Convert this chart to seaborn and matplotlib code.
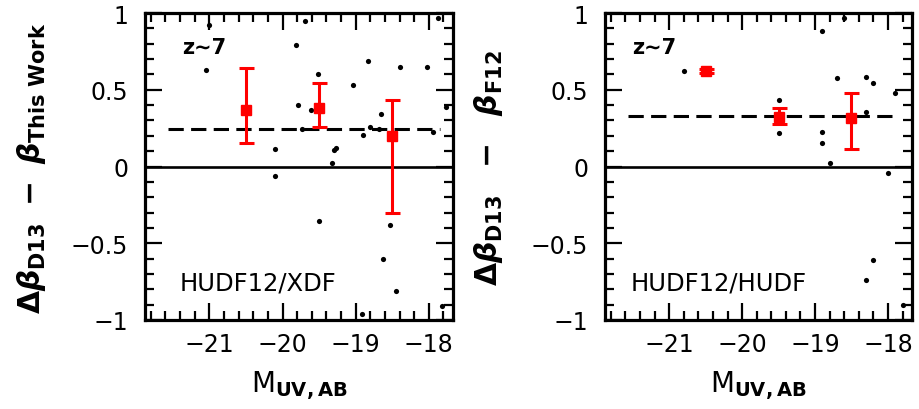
import numpy as np
import matplotlib
matplotlib.use("Agg")
import matplotlib.pyplot as plt
import seaborn as sns

# ---------------- data ----------------
left_x = [-21.01, -19.69, -17.87, -19.82, -21.05, -18.83, -19.52, -18.40, -18.02, -19.04,
          -19.79, -19.61, -17.77, -18.65, -19.74, -18.81, -18.68, -17.95, -18.90, -20.10,
          -19.27, -19.29, -19.33, -20.10, -19.50, -18.53, -18.62, -18.45, -18.91, -17.82]
left_y = [0.925, 0.95, 0.97, 0.79, 0.63, 0.69, 0.60, 0.645, 0.645, 0.53,
          0.40, 0.37, 0.39, 0.34, 0.245, 0.26, 0.245, 0.225, 0.205, 0.115,
          0.12, 0.105, 0.02, -0.063, -0.354, -0.384, -0.60, -0.81, -0.96, -0.91]
left_bin_x = [-20.5, -19.5, -18.5]
left_bin_y = [0.37, 0.38, 0.20]
left_bin_lo = [0.156, 0.258, -0.30]
left_bin_hi = [0.643, 0.545, 0.43]
left_mean = 0.245

right_x = [-18.90, -18.60, -20.79, -18.70, -18.30, -18.20, -17.90, -19.50, -18.30,
           -19.50, -18.90, -18.90, -18.80, -18.00, -18.20, -18.30, -17.80]
right_y = [0.884, 0.97, 0.625, 0.576, 0.584, 0.543, 0.48, 0.434, 0.354,
           0.215, 0.226, 0.154, 0.02, -0.043, -0.61, -0.74, -0.90]
right_bin_x = [-20.5, -19.5, -18.5]
right_bin_y = [0.623, 0.324, 0.315]
right_bin_lo = [0.61, 0.276, 0.117]
right_bin_hi = [0.636, 0.378, 0.482]
right_mean = 0.33

mean_line_x = [-21.57, -17.85]

x_ticks = [-21, -20, -19, -18]
x_ticklabels = ["\u221221", "\u221220", "\u221219", "\u221218"]
y_ticks = [-1, -0.5, 0, 0.5, 1]
y_ticklabels = ["\u22121", "\u22120.5", "0", "0.5", "1"]

field_labels = ["HUDF12/XDF", "HUDF12/HUDF"]
ylabels = [r"$\mathbf{\Delta}\beta_{\mathrm{D13}}\ -\ \beta_{\mathrm{This\ Work}}$",
           r"$\mathbf{\Delta}\beta_{\mathrm{D13}}\ \ -\ \ \beta_{\mathrm{F12}}$"]
xlabel = r"$\mathregular{M}_{\mathrm{UV,AB}}$"

# ---------------- style ----------------
sns.set_style("white")
plt.rcParams["font.family"] = ["DejaVu Sans"]
plt.rcParams.update({"text.color": "black", "axes.labelcolor": "black",
                     "xtick.color": "black", "ytick.color": "black"})
plt.rcParams["mathtext.fontset"] = "custom"
plt.rcParams["mathtext.rm"] = "DejaVu Sans:bold"
plt.rcParams["mathtext.bf"] = "DejaVu Sans:bold"
plt.rcParams["mathtext.it"] = "DejaVu Sans:italic:bold"

fig = plt.figure(figsize=(9.2, 4.1), dpi=100)
ax1 = fig.add_axes([145 / 920, 89 / 410, 308 / 920, 307 / 410])
ax2 = fig.add_axes([605 / 920, 89 / 410, 307 / 920, 307 / 410])

panels = [
    (ax1, left_x, left_y, left_bin_x, left_bin_y, left_bin_lo, left_bin_hi, left_mean, 0.114, 0),
    (ax2, right_x, right_y, right_bin_x, right_bin_y, right_bin_lo, right_bin_hi, right_mean, 0.082, 1),
]

for ax, px, py, bx, by, blo, bhi, mean, fx, i in panels:
    ax.set_xlim(-21.88, -17.67)
    ax.set_ylim(-1, 1)
    ax.axhline(0, color="black", lw=1.9, zorder=1)
    ax.plot(mean_line_x, [mean, mean], color="black", lw=2.2, dashes=(5, 2.4), zorder=2)
    sns.scatterplot(x=px, y=py, ax=ax, color="black", s=14, marker="o",
                    linewidth=0, zorder=3, legend=False)
    by = np.array(by)
    yerr = np.vstack([by - np.array(blo), np.array(bhi) - by])
    ax.errorbar(bx, by, yerr=yerr, fmt="s", color="red", ms=7.3, lw=2.2,
                capsize=5.4, capthick=2.2, zorder=4)

    for s in ax.spines.values():
        s.set_linewidth(2.3)
        s.set_color("black")
    ax.set_xticks(x_ticks)
    ax.set_xticklabels(x_ticklabels)
    ax.set_yticks(y_ticks)
    ax.set_yticklabels(y_ticklabels)
    ax.set_xticks(np.arange(-21.8, -17.6, 0.2), minor=True)
    ax.set_yticks(np.arange(-1, 1.001, 0.1), minor=True)
    ax.tick_params(which="both", direction="in", top=True, right=True,
                   bottom=True, left=True, width=1.6, color="black")
    ax.tick_params(which="major", length=12.5)
    ax.tick_params(which="minor", length=6.5)
    ax.tick_params(axis="x", which="major", labelsize=17, pad=9)
    ax.tick_params(axis="y", which="major", labelsize=17, pad=12)

    ax.text(fx + 0.005, 0.87, "z\u223c7", transform=ax.transAxes, fontsize=15,
            fontweight="bold", ha="left", va="baseline")
    ax.text(fx, 0.10, field_labels[i], transform=ax.transAxes, fontsize=17.5,
            ha="left", va="baseline")
    ax.set_xlabel(xlabel, fontsize=20, labelpad=8)
    ax.set_ylabel("")

label_y = (410 - 168) / 410
fig.text(32 / 920, label_y, ylabels[0], rotation=90, ha="center",
         va="center", fontsize=21.5)
fig.text(489 / 920, label_y, ylabels[1], rotation=90, ha="center",
         va="center", fontsize=21.5)

fig.savefig("out.png", dpi=100)
